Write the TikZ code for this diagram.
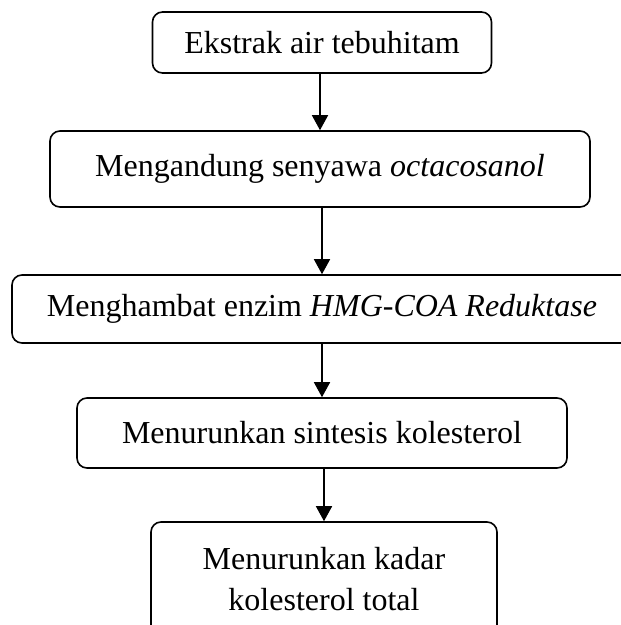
\documentclass[tikz,border=0pt]{standalone}
\usepackage{fontspec}
\setmainfont{Liberation Serif}
\usetikzlibrary{arrows.meta}

\tikzset{
	box/.style={draw, line width=1.6pt, rounded corners=10pt, inner sep=0pt, align=center, font=\fontsize{32}{41}\selectfont},
	flow/.style={line width=1.6pt, -{Triangle[width=16pt,length=15pt]}}
}

\begin{document}
\begin{tikzpicture}[x=1pt,y=-1pt]
	\useasboundingbox (0,0) rectangle (621,625);
	\clip (0,0) rectangle (621,625);
	\node[box, minimum width=339pt, minimum height=61pt] (ekstrak) at (322,42.5) {Ekstrak air tebuhitam};
	\node[box, minimum width=540pt, minimum height=76pt] (kandung) at (320,169) {Mengandung senyawa \textit{octacosanol}};
	\node[box, minimum width=620pt, minimum height=68pt] (hambat) at (322,309) {Menghambat enzim \textit{HMG-COA Reduktase}};
	\node[box, minimum width=490pt, minimum height=70pt] (sintesis) at (322,433) {Menurunkan sintesis kolesterol};
	\node[box, minimum width=346pt, minimum height=115pt] (kadar) at (324,579.5) {Menurunkan kadar\\kolesterol total};
	\foreach \a/\b in {ekstrak/kandung,kandung/hambat,hambat/sintesis,sintesis/kadar}{
		\draw[flow] (\a.south -| \b.north) -- (\b.north);}
\end{tikzpicture}
\end{document}
